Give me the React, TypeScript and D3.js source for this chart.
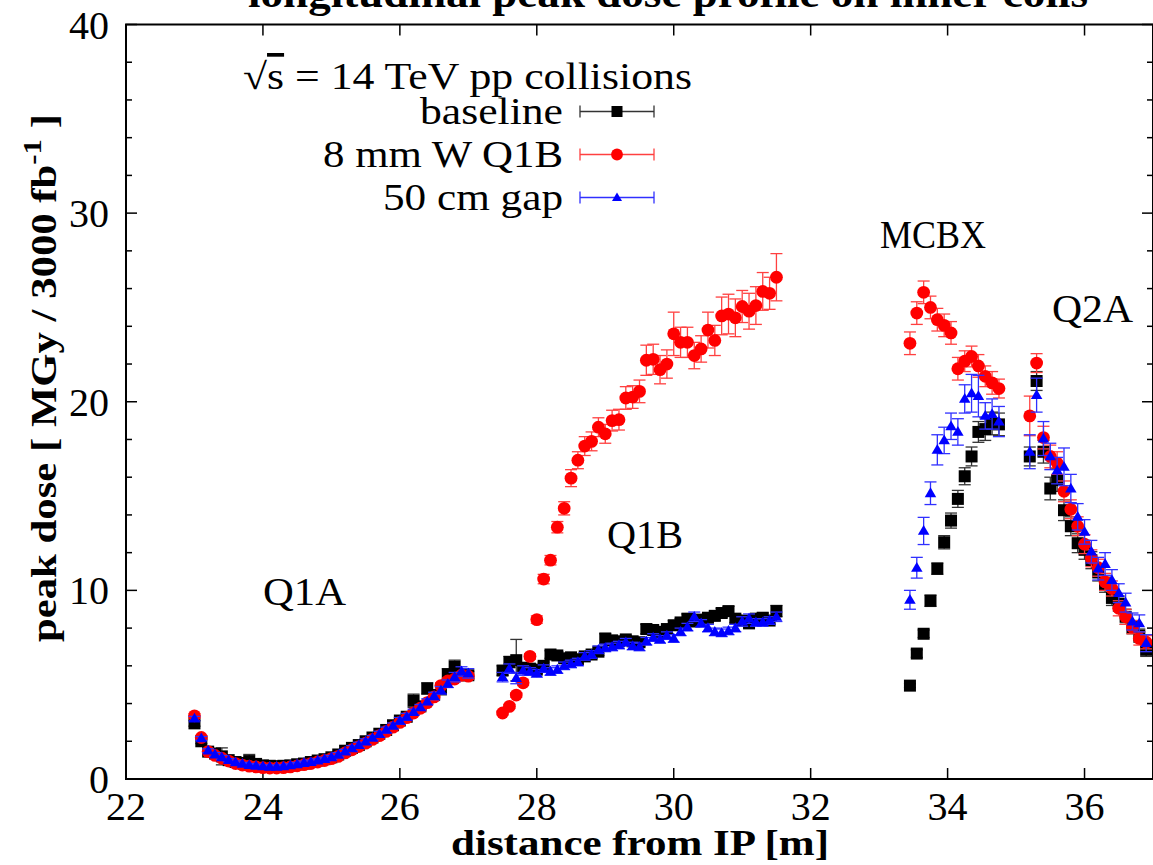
import React from 'react';
import * as d3 from 'd3';

// ---------- data ----------
const q1aX = [23.0, 23.1, 23.2, 23.3, 23.4, 23.5, 23.6, 23.7, 23.8, 23.9, 24.0, 24.1, 24.2, 24.3, 24.4, 24.5, 24.6, 24.7, 24.8, 24.9, 25.0, 25.1, 25.2, 25.3, 25.4, 25.5, 25.6, 25.7, 25.8, 25.9, 26.0, 26.1, 26.2, 26.3, 26.4, 26.5, 26.6, 26.7, 26.8, 26.9, 27.0];
const q1aBaseline = [2.95, 2.0, 1.45, 1.35, 1.2, 1.0, 0.9, 0.85, 0.95, 0.8, 0.72, 0.7, 0.68, 0.7, 0.72, 0.78, 0.82, 0.9, 0.98, 1.05, 1.15, 1.3, 1.5, 1.65, 1.8, 2.0, 2.2, 2.4, 2.6, 2.85, 3.1, 3.3, 4.15, 3.85, 4.8, 4.45, 4.75, 5.55, 5.95, 5.5, 5.5];
const q1aBaselineErr = [0.15, 0.12, 0.1, 0.15, 0.45, 0.1, 0.1, 0.1, 0.35, 0.1, 0.1, 0.08, 0.08, 0.08, 0.08, 0.08, 0.08, 0.08, 0.08, 0.08, 0.08, 0.1, 0.1, 0.1, 0.1, 0.1, 0.1, 0.1, 0.12, 0.12, 0.12, 0.15, 0.35, 0.15, 0.3, 0.15, 0.2, 0.3, 0.35, 0.2, 0.2];
const q1aW = [3.35, 2.2, 1.45, 1.25, 1.1, 0.95, 0.82, 0.74, 0.68, 0.64, 0.6, 0.58, 0.58, 0.6, 0.64, 0.7, 0.76, 0.82, 0.9, 0.98, 1.08, 1.2, 1.38, 1.55, 1.72, 1.9, 2.1, 2.3, 2.52, 2.75, 3.0, 3.25, 3.5, 3.75, 4.05, 4.35, 4.95, 5.2, 5.3, 5.5, 5.45];
const q1aWErr = [0.12, 0.1, 0.08, 0.08, 0.06, 0.06, 0.05, 0.05, 0.05, 0.05, 0.05, 0.05, 0.05, 0.05, 0.05, 0.05, 0.05, 0.05, 0.05, 0.05, 0.06, 0.06, 0.06, 0.07, 0.07, 0.08, 0.08, 0.08, 0.09, 0.1, 0.1, 0.1, 0.12, 0.12, 0.12, 0.14, 0.15, 0.15, 0.16, 0.16, 0.16];
const q1aGap = [3.2, 2.15, 1.5, 1.3, 1.15, 1.0, 0.88, 0.8, 0.74, 0.7, 0.67, 0.65, 0.65, 0.67, 0.72, 0.78, 0.85, 0.9, 0.97, 1.05, 1.15, 1.28, 1.45, 1.62, 1.8, 1.98, 2.18, 2.38, 2.6, 2.82, 3.08, 3.3, 3.55, 3.8, 4.1, 4.4, 4.7, 5.05, 5.4, 5.7, 5.6];
const q1aGapErr = [0.12, 0.1, 0.1, 0.1, 0.1, 0.08, 0.08, 0.08, 0.08, 0.08, 0.08, 0.08, 0.08, 0.08, 0.08, 0.1, 0.1, 0.1, 0.1, 0.1, 0.1, 0.12, 0.12, 0.15, 0.15, 0.15, 0.12, 0.15, 0.15, 0.15, 0.18, 0.18, 0.15, 0.15, 0.15, 0.2, 0.2, 0.2, 0.25, 0.25, 0.25];

const q1bX = [27.5, 27.6, 27.7, 27.8, 27.9, 28.0, 28.1, 28.2, 28.3, 28.4, 28.5, 28.6, 28.7, 28.8, 28.9, 29.0, 29.1, 29.2, 29.3, 29.4, 29.5, 29.6, 29.7, 29.8, 29.9, 30.0, 30.1, 30.2, 30.3, 30.4, 30.5, 30.6, 30.7, 30.8, 30.9, 31.0, 31.1, 31.2, 31.3, 31.4, 31.5];
const q1bBaseline = [5.75, 6.2, 6.3, 5.9, 5.85, 5.8, 6.0, 6.6, 6.55, 6.4, 6.45, 6.35, 6.5, 6.6, 6.75, 7.45, 7.35, 7.3, 7.4, 7.3, 7.25, 7.95, 7.9, 7.8, 7.95, 8.15, 8.3, 8.5, 8.35, 8.45, 8.55, 8.65, 8.8, 8.9, 8.5, 8.4, 8.25, 8.5, 8.55, 8.4, 8.9];
const q1bBaselineErr = [0.25, 0.3, 1.1, 0.25, 0.2, 0.2, 0.2, 0.2, 0.2, 0.2, 0.2, 0.2, 0.2, 0.2, 0.2, 0.25, 0.2, 0.2, 0.2, 0.2, 0.2, 0.25, 0.2, 0.2, 0.2, 0.25, 0.2, 0.25, 0.2, 0.2, 0.25, 0.25, 0.25, 0.25, 0.2, 0.2, 0.2, 0.25, 0.25, 0.2, 0.3];
const q1bW = [3.5, 3.85, 4.45, 5.1, 6.5, 8.45, 10.6, 11.6, 13.35, 14.35, 15.95, 16.9, 17.65, 17.9, 18.65, 18.3, 19.0, 19.05, 20.2, 20.25, 20.55, 22.2, 22.25, 21.7, 22.0, 23.6, 23.15, 23.15, 22.45, 22.8, 23.8, 23.25, 24.55, 24.65, 24.45, 25.05, 24.8, 25.1, 25.85, 25.75, 26.6];
const q1bWErr = [0.1, 0.1, 0.12, 0.15, 0.15, 0.2, 0.25, 0.25, 0.3, 0.35, 0.45, 0.45, 0.5, 0.5, 0.5, 0.5, 0.55, 0.55, 0.6, 0.6, 0.6, 0.8, 0.8, 0.75, 0.75, 1.15, 0.8, 0.8, 0.7, 0.7, 0.95, 0.8, 1.0, 1.05, 1.0, 0.85, 0.95, 1.0, 1.0, 0.85, 1.25];
const q1bGap = [5.4, 5.85, 5.35, 5.75, 5.7, 5.6, 5.85, 5.7, 5.8, 6.0, 6.1, 6.2, 6.5, 6.6, 6.85, 6.95, 7.0, 7.1, 7.25, 7.05, 7.0, 7.3, 7.5, 7.4, 7.6, 7.45, 7.8, 8.05, 8.6, 8.25, 8.0, 7.8, 7.75, 7.85, 8.0, 8.35, 8.5, 8.3, 8.3, 8.4, 8.6];
const q1bGapErr = [0.25, 0.25, 0.3, 0.25, 0.2, 0.2, 0.2, 0.2, 0.2, 0.2, 0.2, 0.2, 0.2, 0.2, 0.2, 0.2, 0.2, 0.2, 0.2, 0.2, 0.2, 0.2, 0.2, 0.2, 0.2, 0.2, 0.2, 0.2, 0.25, 0.2, 0.2, 0.2, 0.2, 0.2, 0.2, 0.25, 0.25, 0.2, 0.2, 0.2, 0.25];

const mcbxX = [33.45, 33.55, 33.65, 33.75, 33.85, 33.95, 34.05, 34.15, 34.25, 34.35, 34.45, 34.55, 34.65, 34.75];
const mcbxBaseline = [4.95, 6.65, 7.7, 9.45, 11.15, 12.55, 13.7, 14.85, 16.05, 17.1, 18.4, 18.55, 18.85, 18.8];
const mcbxBaselineErr = [0.1, 0.2, 0.2, 0.3, 0.3, 0.35, 0.4, 0.45, 0.45, 0.5, 0.55, 0.6, 0.6, 0.6];
const mcbxW = [23.1, 24.7, 25.8, 25.0, 24.35, 24.05, 23.65, 21.75, 22.15, 22.4, 21.9, 21.35, 21.0, 20.7];
const mcbxWErr = [0.6, 0.6, 0.6, 0.6, 0.6, 0.6, 0.6, 0.6, 0.55, 0.55, 0.6, 0.55, 0.6, 0.5];
const mcbxGap = [9.5, 11.2, 13.15, 15.15, 17.45, 17.95, 18.7, 18.4, 20.15, 20.45, 20.3, 19.25, 19.35, 18.95];
const mcbxGapErr = [0.5, 0.55, 0.72, 0.6, 0.8, 0.7, 0.7, 0.7, 0.75, 1.0, 1.1, 0.7, 0.8, 0.8];

const q2aX = [35.2, 35.3, 35.4, 35.5, 35.6, 35.7, 35.8, 35.9, 36.0, 36.1, 36.2, 36.3, 36.4, 36.5, 36.6, 36.7, 36.8, 36.9];
const q2aBaseline = [17.1, 21.1, 17.35, 15.4, 15.85, 14.25, 13.4, 12.5, 12.15, 11.6, 10.95, 10.3, 9.6, 9.3, 8.6, 8.05, 7.6, 6.85];
const q2aBaselineErr = [0.5, 0.5, 0.6, 0.6, 0.6, 0.55, 0.5, 0.5, 0.5, 0.45, 0.45, 0.4, 0.4, 0.4, 0.4, 0.35, 0.35, 0.35];
const q2aW = [19.25, 22.05, 18.1, 17.1, 16.75, 15.25, 14.3, 13.4, 12.45, 11.7, 11.2, 10.45, 10.1, 9.05, 8.6, 8.05, 7.45, 7.25];
const q2aWErr = [1.05, 0.5, 0.6, 0.6, 0.6, 0.55, 0.5, 0.5, 0.5, 0.45, 0.45, 0.45, 0.4, 0.4, 0.4, 0.35, 0.35, 0.35];
const q2aGap = [17.35, 20.35, 18.05, 17.1, 16.35, 16.55, 15.4, 13.9, 13.1, 12.05, 11.15, 11.4, 10.55, 9.85, 9.35, 8.35, 8.25, 7.2];
const q2aGapErr = [0.9, 0.9, 0.9, 0.7, 0.7, 1.0, 0.75, 0.7, 0.65, 0.6, 0.6, 0.6, 0.55, 0.5, 0.5, 0.45, 0.45, 0.45];

const xTicks = [22, 24, 26, 28, 30, 32, 34, 36];
const yTicks = [0, 10, 20, 30, 40];
const yMinorTicks = [2, 4, 6, 8, 12, 14, 16, 18, 22, 24, 26, 28, 32, 34, 36, 38];

const seriesNames = ['baseline', '8 mm W Q1B', '50 cm gap'];

// ---------- helpers ----------
type Pt = { x: number; y: number; e: number };
function zip(xs: number[], ys: number[], es: number[]): Pt[] {
  return xs.map((x, i) => ({ x, y: ys[i], e: es[i] }));
}

const baselinePts = [
  ...zip(q1aX, q1aBaseline, q1aBaselineErr),
  ...zip(q1bX, q1bBaseline, q1bBaselineErr),
  ...zip(mcbxX, mcbxBaseline, mcbxBaselineErr),
  ...zip(q2aX, q2aBaseline, q2aBaselineErr),
];
const wPts = [
  ...zip(q1aX, q1aW, q1aWErr),
  ...zip(q1bX, q1bW, q1bWErr),
  ...zip(mcbxX, mcbxW, mcbxWErr),
  ...zip(q2aX, q2aW, q2aWErr),
];
const gapPts = [
  ...zip(q1aX, q1aGap, q1aGapErr),
  ...zip(q1bX, q1bGap, q1bGapErr),
  ...zip(mcbxX, mcbxGap, mcbxGapErr),
  ...zip(q2aX, q2aGap, q2aGapErr),
];

const W = 1153;
const H = 865;
const L = 126, R = 1153, T = 24.5, B = 779;
const FONT = "'Liberation Serif', serif";

const x = d3.scaleLinear().domain([22, 37]).range([L, R]);
const y = d3.scaleLinear().domain([0, 40]).range([B, T]);

type Shape = 'square' | 'circle' | 'triangle';
const seriesDefs: { name: string; pts: Pt[]; color: string; err: string; shape: Shape; legendLen: number }[] = [
  { name: seriesNames[0], pts: baselinePts, color: '#000000', err: '#333333', shape: 'square', legendLen: 143 },
  { name: seriesNames[1], pts: wPts, color: '#ff0000', err: '#ff4040', shape: 'circle', legendLen: 240 },
  { name: seriesNames[2], pts: gapPts, color: '#0000ff', err: '#3030ff', shape: 'triangle', legendLen: 180 },
];

function Marker({ shape, cx, cy, color, s }: { shape: Shape; cx: number; cy: number; color: string; s: number }) {
  if (shape === 'square') return <rect x={cx - s / 2} y={cy - s / 2} width={s} height={s} fill={color} />;
  if (shape === 'circle') return <circle cx={cx} cy={cy} r={s / 2 + 0.4} fill={color} />;
  const h = s * 0.85;
  return (
    <path
      d={`M${cx},${cy - h * 0.6} L${cx + s / 2},${cy + h * 0.4} L${cx - s / 2},${cy + h * 0.4} Z`}
      fill={color}
    />
  );
}

function ErrBar({ cx, y0, y1, color, cap }: { cx: number; y0: number; y1: number; color: string; cap: number }) {
  return (
    <g stroke={color} strokeWidth={1.3}>
      <line x1={cx} x2={cx} y1={y0} y2={y1} />
      <line x1={cx - cap} x2={cx + cap} y1={y0} y2={y0} />
      <line x1={cx - cap} x2={cx + cap} y1={y1} y2={y1} />
    </g>
  );
}

export default function App() {
  const legendRows = [111.5, 154.5, 197.5];
  return (
    <svg
      width={W}
      height={H}
      style={{ position: 'absolute', left: 0, top: 0, background: '#fff', fontFamily: FONT }}
    >
      <rect x={0} y={0} width={W} height={H} fill="#fff" />
      {/* title, mostly cut off at the top */}
      <text x={668} y={7} textAnchor="middle" fontWeight="bold" fontSize={40} textLength={840} lengthAdjust="spacingAndGlyphs">
        longitudinal peak dose profile on inner coils
      </text>

      {/* ticks */}
      <g stroke="#000" strokeWidth={1.5}>
        {xTicks.map((t) => (
          <g key={'xt' + t}>
            <line x1={x(t)} x2={x(t)} y1={B} y2={B - 11} />
            <line x1={x(t)} x2={x(t)} y1={T} y2={T + 11} />
          </g>
        ))}
        {yTicks.map((t) => (
          <g key={'yt' + t}>
            <line x1={L} x2={L + 11} y1={y(t)} y2={y(t)} />
            <line x1={R} x2={R - 11} y1={y(t)} y2={y(t)} />
          </g>
        ))}
        {yMinorTicks.map((t) => (
          <g key={'ym' + t}>
            <line x1={L} x2={L + 6} y1={y(t)} y2={y(t)} />
            <line x1={R} x2={R - 6} y1={y(t)} y2={y(t)} />
          </g>
        ))}
      </g>

      {/* tick labels */}
      <g fontSize={40} fill="#000">
        {xTicks.map((t) => (
          <text key={'xl' + t} x={x(t)} y={820} textAnchor="middle">
            {t}
          </text>
        ))}
        {yTicks.map((t) => (
          <text key={'yl' + t} x={109} y={y(t) + 14} textAnchor="end">
            {t}
          </text>
        ))}
      </g>

      {/* axis labels */}
      <text x={640} y={855} textAnchor="middle" fontWeight="bold" fontSize={36} textLength={378} lengthAdjust="spacingAndGlyphs">
        distance from IP [m]
      </text>
      <text
        transform="translate(56,378) rotate(-90)"
        textAnchor="middle"
        fontWeight="bold"
        fontSize={36}
        textLength={528}
        lengthAdjust="spacingAndGlyphs"
      >
        peak dose [ MGy / 3000 fb
        <tspan dy={-15} fontSize={26}>-1</tspan>
        <tspan dy={15}> ]</tspan>
      </text>

      {/* annotations */}
      <g fontSize={41} fill="#000">
        <text x={263} y={605} textLength={83} lengthAdjust="spacingAndGlyphs">Q1A</text>
        <text x={607} y={548} textLength={76} lengthAdjust="spacingAndGlyphs">Q1B</text>
        <text x={880} y={248} fontSize={39} textLength={106} lengthAdjust="spacingAndGlyphs">MCBX</text>
        <text x={1052} y={322} textLength={81} lengthAdjust="spacingAndGlyphs">Q2A</text>
      </g>

      {/* data */}
      <defs>
        <clipPath id="plotclip">
          <rect x={L} y={T} width={R - L + 10} height={B - T} />
        </clipPath>
      </defs>
      <g clipPath="url(#plotclip)">
        {seriesDefs.map((s) => (
          <g key={s.name}>
            {s.pts.map((p, i) => (
              <ErrBar key={'e' + i} cx={x(p.x)} y0={y(p.y - p.e)} y1={y(p.y + p.e)} color={s.err} cap={6} />
            ))}
            {s.pts.map((p, i) => (
              <Marker key={'m' + i} shape={s.shape} cx={x(p.x)} cy={y(p.y)} color={s.color} s={s.shape === 'triangle' ? 11.5 : 12} />
            ))}
          </g>
        ))}
      </g>

      {/* legend */}
      <text x={243} y={89} fontSize={37} textLength={449} lengthAdjust="spacingAndGlyphs">
        √<tspan textDecoration="overline">s</tspan> = 14 TeV pp collisions
      </text>
      {seriesDefs.map((s, i) => (
        <g key={'lg' + i}>
          <text
            x={563 - s.legendLen}
            y={legendRows[i] + 12}
            fontSize={37}
            textLength={s.legendLen}
            lengthAdjust="spacingAndGlyphs"
          >
            {s.name}
          </text>
          <g stroke={s.err} strokeWidth={1.3}>
            <line x1={580} x2={654} y1={legendRows[i]} y2={legendRows[i]} />
            <line x1={580} x2={580} y1={legendRows[i] - 6} y2={legendRows[i] + 6} />
            <line x1={654} x2={654} y1={legendRows[i] - 6} y2={legendRows[i] + 6} />
          </g>
          <Marker shape={s.shape} cx={617} cy={legendRows[i]} color={s.color} s={s.shape === 'triangle' ? 10 : 11} />
        </g>
      ))}

      {/* frame */}
      <rect x={L} y={T} width={R - L} height={B - T} fill="none" stroke="#000" strokeWidth={2} />
    </svg>
  );
}
